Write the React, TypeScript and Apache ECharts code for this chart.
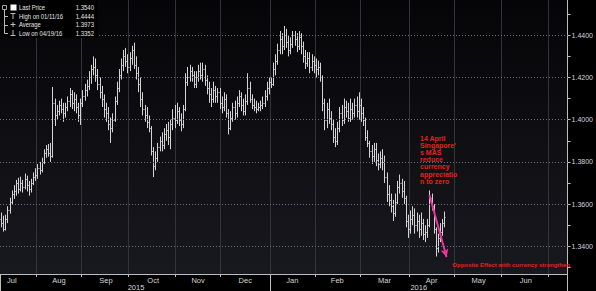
import React, { useEffect, useRef } from 'react';
import * as echarts from 'echarts';

const FONT = "'Liberation Sans Narrow', 'Liberation Sans', Arial, sans-serif";
const BOLD_FONT = "'Liberation Sans', Arial, sans-serif";

// ---- axis categories: trading days shown on the axis ----
const AXIS_START = '2015-07-09';
const AXIS_END = '2016-07-13';
function weekdays(start: string, end: string): string[] {
  const out: string[] = [];
  const d = new Date(start + 'T00:00:00Z');
  const e = new Date(end + 'T00:00:00Z');
  while (d <= e) {
    const wd = d.getUTCDay();
    if (wd !== 0 && wd !== 6) out.push(d.toISOString().slice(0, 10));
    d.setUTCDate(d.getUTCDate() + 1);
  }
  return out;
}
const categories = weekdays(AXIS_START, AXIS_END);

// ---- tick labels ----
const monthLabels = ['Jul', 'Aug', 'Sep', 'Oct', 'Nov', 'Dec', 'Jan', 'Feb', 'Mar', 'Apr', 'May', 'Jun'];
const monthLabelDates = ['2015-07-16', '2015-08-17', '2015-09-16', '2015-10-16', '2015-11-16', '2015-12-16',
  '2016-01-15', '2016-02-15', '2016-03-16', '2016-04-15', '2016-05-17', '2016-06-16'];
const yearLabels = ['2015', '2016'];
const yearLabelDates = ['2015-10-06', '2016-04-07'];
const yearSeparatorDate = '2016-01-01';
const yLabelValues = [1.34, 1.36, 1.38, 1.40, 1.42, 1.44];
const yTickValues = [1.33, 1.34, 1.35, 1.36, 1.37, 1.38, 1.39, 1.40, 1.41, 1.42, 1.43, 1.44, 1.45];

// ---- daily bars [open, close, low, high] ----
const jul2015 = [
  [1.3530, 1.3510, 1.3490, 1.3560], [1.3510, 1.3480, 1.3470, 1.3545], [1.3480, 1.3530, 1.3475, 1.3550],
  [1.3530, 1.3570, 1.3510, 1.3590], [1.3570, 1.3610, 1.3555, 1.3630], [1.3610, 1.3650, 1.3600, 1.3665],
  [1.3650, 1.3660, 1.3625, 1.3690], [1.3660, 1.3700, 1.3640, 1.3715], [1.3700, 1.3670, 1.3650, 1.3725],
  [1.3670, 1.3700, 1.3660, 1.3730], [1.3700, 1.3680, 1.3655, 1.3715], [1.3680, 1.3720, 1.3670, 1.3745],
  [1.3720, 1.3690, 1.3660, 1.3735], [1.3690, 1.3670, 1.3640, 1.3710], [1.3670, 1.3700, 1.3655, 1.3720],
  [1.3700, 1.3730, 1.3690, 1.3750], [1.3730, 1.3740, 1.3710, 1.3770],
];
const aug2015 = [
  [1.3740, 1.3770, 1.3720, 1.3790], [1.3770, 1.3760, 1.3740, 1.3800], [1.3760, 1.3800, 1.3750, 1.3820],
  [1.3800, 1.3840, 1.3790, 1.3860], [1.3840, 1.3860, 1.3820, 1.3880], [1.3860, 1.3840, 1.3825, 1.3885],
  [1.3840, 1.3830, 1.3800, 1.3890], [1.3830, 1.4080, 1.3820, 1.4155], [1.4080, 1.4020, 1.3970, 1.4100],
  [1.4020, 1.4040, 1.4000, 1.4070], [1.4040, 1.4070, 1.4020, 1.4090], [1.4070, 1.4050, 1.4030, 1.4100],
  [1.4050, 1.4030, 1.3990, 1.4080], [1.4030, 1.4060, 1.4010, 1.4080], [1.4060, 1.4090, 1.4040, 1.4110],
  [1.4090, 1.4120, 1.4060, 1.4150], [1.4120, 1.4080, 1.4050, 1.4140], [1.4080, 1.4100, 1.4040, 1.4130],
  [1.4100, 1.4060, 1.4030, 1.4120], [1.4060, 1.4020, 1.3990, 1.4080], [1.4020, 1.4080, 1.3975, 1.4100],
];
const sep2015 = [
  [1.4080, 1.4110, 1.4060, 1.4140], [1.4110, 1.4140, 1.4090, 1.4170], [1.4140, 1.4160, 1.4110, 1.4190],
  [1.4160, 1.4200, 1.4140, 1.4230], [1.4200, 1.4240, 1.4170, 1.4260], [1.4240, 1.4250, 1.4210, 1.4300],
  [1.4250, 1.4210, 1.4180, 1.4290], [1.4210, 1.4170, 1.4140, 1.4240], [1.4170, 1.4130, 1.4100, 1.4200],
  [1.4130, 1.4100, 1.4060, 1.4160], [1.4100, 1.4050, 1.4010, 1.4120], [1.4050, 1.4030, 1.3990, 1.4080],
  [1.4030, 1.3980, 1.3950, 1.4060], [1.3980, 1.3960, 1.3890, 1.4010], [1.3960, 1.4000, 1.3940, 1.4030],
  [1.4000, 1.4090, 1.3990, 1.4110], [1.4090, 1.4150, 1.4070, 1.4180], [1.4150, 1.4210, 1.4130, 1.4240],
  [1.4210, 1.4260, 1.4190, 1.4290], [1.4260, 1.4300, 1.4230, 1.4330], [1.4300, 1.4280, 1.4250, 1.4340],
  [1.4280, 1.4250, 1.4220, 1.4310],
];
const oct2015 = [
  [1.4250, 1.4290, 1.4230, 1.4320], [1.4290, 1.4330, 1.4260, 1.4350], [1.4330, 1.4260, 1.4240, 1.4365],
  [1.4260, 1.4220, 1.4190, 1.4300], [1.4220, 1.4170, 1.4130, 1.4250], [1.4170, 1.4100, 1.4060, 1.4200],
  [1.4100, 1.4050, 1.4020, 1.4130], [1.4050, 1.4020, 1.3990, 1.4070], [1.4020, 1.3990, 1.3960, 1.4060],
  [1.3990, 1.3960, 1.3940, 1.4020], [1.3960, 1.3850, 1.3830, 1.3970], [1.3850, 1.3780, 1.3728, 1.3870],
  [1.3780, 1.3820, 1.3760, 1.3850], [1.3820, 1.3870, 1.3800, 1.3890], [1.3870, 1.3900, 1.3850, 1.3920],
  [1.3900, 1.3880, 1.3850, 1.3940], [1.3880, 1.3930, 1.3860, 1.3960], [1.3930, 1.3950, 1.3900, 1.3980],
  [1.3950, 1.3920, 1.3880, 1.3990], [1.3920, 1.3980, 1.3860, 1.4000], [1.3980, 1.4010, 1.3950, 1.4050],
  [1.4010, 1.4000, 1.3960, 1.4070],
];
const nov2015 = [
  [1.4000, 1.4040, 1.3980, 1.4080], [1.4040, 1.4000, 1.3970, 1.4060], [1.4000, 1.3980, 1.3945, 1.4030],
  [1.3980, 1.4050, 1.3960, 1.4070], [1.4050, 1.4180, 1.4040, 1.4220], [1.4180, 1.4200, 1.4160, 1.4250],
  [1.4200, 1.4230, 1.4180, 1.4260], [1.4230, 1.4210, 1.4180, 1.4250], [1.4210, 1.4170, 1.4150, 1.4230],
  [1.4170, 1.4200, 1.4150, 1.4230], [1.4200, 1.4230, 1.4180, 1.4260], [1.4230, 1.4210, 1.4190, 1.4270],
  [1.4210, 1.4240, 1.4180, 1.4270], [1.4240, 1.4190, 1.4160, 1.4260], [1.4190, 1.4150, 1.4120, 1.4210],
  [1.4150, 1.4120, 1.4080, 1.4180], [1.4120, 1.4100, 1.4060, 1.4150], [1.4100, 1.4140, 1.4080, 1.4180],
  [1.4140, 1.4110, 1.4080, 1.4160], [1.4110, 1.4130, 1.4080, 1.4150], [1.4130, 1.4080, 1.4050, 1.4150],
];
const dec2015 = [
  [1.4080, 1.4060, 1.4030, 1.4110], [1.4060, 1.4100, 1.4040, 1.4130], [1.4100, 1.4030, 1.4010, 1.4120],
  [1.4030, 1.3960, 1.3930, 1.4050], [1.3960, 1.4010, 1.3950, 1.4040], [1.4010, 1.4060, 1.3990, 1.4080],
  [1.4060, 1.4030, 1.4000, 1.4090], [1.4030, 1.4080, 1.4010, 1.4110], [1.4080, 1.4110, 1.4060, 1.4140],
  [1.4110, 1.4070, 1.4040, 1.4130], [1.4070, 1.4040, 1.4020, 1.4100], [1.4040, 1.4090, 1.4020, 1.4120],
  [1.4090, 1.4150, 1.4070, 1.4220], [1.4150, 1.4100, 1.4080, 1.4180], [1.4100, 1.4070, 1.4050, 1.4120],
  [1.4070, 1.4060, 1.4040, 1.4100], [1.4060, 1.4050, 1.4030, 1.4090], [1.4050, 1.4060, 1.4040, 1.4080],
  [1.4060, 1.4070, 1.4040, 1.4090], [1.4070, 1.4080, 1.4050, 1.4110], [1.4080, 1.4110, 1.4060, 1.4140],
  [1.4110, 1.4150, 1.4090, 1.4180], [1.4150, 1.4180, 1.4120, 1.4200],
];
const jan2016 = [
  [1.4180, 1.4170, 1.4150, 1.4200], [1.4170, 1.4240, 1.4160, 1.4270], [1.4240, 1.4280, 1.4210, 1.4310],
  [1.4280, 1.4330, 1.4260, 1.4360], [1.4330, 1.4380, 1.4310, 1.4420], [1.4380, 1.4350, 1.4310, 1.4410],
  [1.4350, 1.4400, 1.4330, 1.4444], [1.4400, 1.4370, 1.4340, 1.4430], [1.4370, 1.4330, 1.4300, 1.4400],
  [1.4330, 1.4360, 1.4310, 1.4390], [1.4360, 1.4400, 1.4340, 1.4420], [1.4400, 1.4380, 1.4350, 1.4420],
  [1.4380, 1.4350, 1.4320, 1.4410], [1.4350, 1.4390, 1.4330, 1.4420], [1.4390, 1.4350, 1.4310, 1.4410],
  [1.4350, 1.4300, 1.4270, 1.4370], [1.4300, 1.4270, 1.4240, 1.4330], [1.4270, 1.4290, 1.4250, 1.4320],
  [1.4290, 1.4250, 1.4220, 1.4320], [1.4250, 1.4280, 1.4230, 1.4310], [1.4280, 1.4260, 1.4220, 1.4300],
];
const feb2016 = [
  [1.4260, 1.4240, 1.4200, 1.4290], [1.4240, 1.4250, 1.4210, 1.4280], [1.4250, 1.4200, 1.4180, 1.4270],
  [1.4200, 1.4080, 1.4040, 1.4210], [1.4080, 1.4000, 1.3950, 1.4100], [1.4000, 1.4050, 1.3960, 1.4080],
  [1.4050, 1.4010, 1.3980, 1.4100], [1.4010, 1.3980, 1.3950, 1.4040], [1.3980, 1.3920, 1.3890, 1.4000],
  [1.3920, 1.3900, 1.3870, 1.3960], [1.3900, 1.3960, 1.3880, 1.3990], [1.3960, 1.4030, 1.3940, 1.4060],
  [1.4030, 1.4000, 1.3970, 1.4070], [1.4000, 1.4060, 1.3980, 1.4100], [1.4060, 1.4040, 1.4010, 1.4090],
  [1.4040, 1.4010, 1.3990, 1.4080], [1.4010, 1.4050, 1.3990, 1.4100], [1.4050, 1.4030, 1.4000, 1.4080],
  [1.4030, 1.4070, 1.4010, 1.4100], [1.4070, 1.4040, 1.4010, 1.4110], [1.4040, 1.4070, 1.4000, 1.4130],
];
const mar2016 = [
  [1.4070, 1.4030, 1.3990, 1.4100], [1.4030, 1.4000, 1.3970, 1.4060], [1.4000, 1.3920, 1.3900, 1.4010],
  [1.3920, 1.3890, 1.3870, 1.3950], [1.3890, 1.3850, 1.3820, 1.3900], [1.3850, 1.3830, 1.3790, 1.3880],
  [1.3830, 1.3860, 1.3800, 1.3890], [1.3860, 1.3810, 1.3780, 1.3890], [1.3810, 1.3790, 1.3760, 1.3840],
  [1.3790, 1.3820, 1.3770, 1.3850], [1.3820, 1.3800, 1.3760, 1.3860], [1.3800, 1.3730, 1.3700, 1.3830],
  [1.3730, 1.3650, 1.3610, 1.3750], [1.3650, 1.3620, 1.3590, 1.3690], [1.3620, 1.3590, 1.3560, 1.3650],
  [1.3590, 1.3560, 1.3520, 1.3620], [1.3560, 1.3610, 1.3540, 1.3650], [1.3610, 1.3680, 1.3600, 1.3710],
  [1.3680, 1.3700, 1.3650, 1.3740], [1.3700, 1.3660, 1.3630, 1.3720], [1.3660, 1.3630, 1.3600, 1.3710],
  [1.3630, 1.3520, 1.3490, 1.3640], [1.3520, 1.3480, 1.3440, 1.3550],
];
const apr2016 = [
  [1.3480, 1.3530, 1.3460, 1.3570], [1.3530, 1.3550, 1.3500, 1.3590], [1.3550, 1.3500, 1.3460, 1.3580],
  [1.3500, 1.3520, 1.3470, 1.3560], [1.3520, 1.3480, 1.3440, 1.3550], [1.3480, 1.3510, 1.3450, 1.3560],
  [1.3510, 1.3460, 1.3430, 1.3530], [1.3460, 1.3470, 1.3420, 1.3500], [1.3470, 1.3500, 1.3440, 1.3530],
  [1.3500, 1.3630, 1.3490, 1.3665], [1.3630, 1.3590, 1.3570, 1.3650], [1.3590, 1.3480, 1.3460, 1.3600],
  [1.3480, 1.3390, 1.3352, 1.3490], [1.3390, 1.3440, 1.3370, 1.3460], [1.3440, 1.3470, 1.3420, 1.3510],
  [1.3470, 1.3510, 1.3450, 1.3530], [1.3510, 1.3540, 1.3490, 1.3565],
];

// ---- legend / annotation values ----
const lastPrice = 1.3540;
const highLabel = 'High on 01/11/16';
const highValue = 1.4444;
const averageValue = 1.3973;
const lowLabel = 'Low on 04/19/16';
const lowValue = 1.3352;
const arrowFrom = { date: '2016-04-14', value: 1.3643 };
const arrowTo = { date: '2016-04-26', value: 1.3349 };
const annotationLines = ['14 April', "Singapore'", 's MAS', 'reduce', 'currency', 'appreciatio', 'n to zero'];
const bottomNote = 'Opposite Effect with currency strengthen';

const Y_MIN = 1.3269;
const Y_MAX = 1.4567;

export default function App() {
  const ref = useRef<HTMLDivElement>(null);
  useEffect(() => {
    if (!ref.current) return;
    const chart = echarts.init(ref.current, undefined, { renderer: 'svg' });
    const bars = [...jul2015, ...aug2015, ...sep2015, ...oct2015, ...nov2015, ...dec2015,
      ...jan2016, ...feb2016, ...mar2016, ...apr2016];
    const data = bars.map((b, i) => [i, b[0], b[1], b[2], b[3]]);

    const isMonthStart = (idx: number) =>
      idx > 0 && categories[idx].slice(5, 7) !== categories[idx - 1].slice(5, 7);
    const sepIdx = categories.indexOf(yearSeparatorDate);
    const txt = '#d6d6d6';
    const axisCol = '#bdbdbd';

    const legendRows = [
      { label: 'Last Price', value: lastPrice },
      { label: highLabel, value: highValue },
      { label: 'Average', value: averageValue },
      { label: lowLabel, value: lowValue },
    ];
    const rowY = [7.5, 16, 24.5, 33];
    const lineStyle = { stroke: '#bbb', lineWidth: 1 };
    const legendGraphic: any[] = [
      { type: 'rect', shape: { x: 0, y: 0, width: 98, height: 38 }, style: { fill: '#000' }, z: 50 },
      { type: 'rect', shape: { x: 2.5, y: 5.5, width: 4, height: 4 }, style: { fill: 'none', stroke: '#aaa', lineWidth: 1 }, z: 51 },
      { type: 'rect', shape: { x: 10.5, y: 4.5, width: 6, height: 6 }, style: { fill: '#fff' }, z: 51 },
      { type: 'line', shape: { x1: 4.5, y1: 9.5, x2: 4.5, y2: 33.5 }, style: lineStyle, z: 51 },
      ...[16, 24.5, 33].map((y) => ({ type: 'line', shape: { x1: 4.5, y1: Math.round(y) + 0.5, x2: 8, y2: Math.round(y) + 0.5 }, style: lineStyle, z: 51 })),
      { type: 'line', shape: { x1: 10.5, y1: 13.5, x2: 15.5, y2: 13.5 }, style: lineStyle, z: 51 },
      { type: 'line', shape: { x1: 13, y1: 13.5, x2: 13, y2: 19 }, style: lineStyle, z: 51 },
      { type: 'line', shape: { x1: 10.5, y1: 24.5, x2: 15.5, y2: 24.5 }, style: lineStyle, z: 51 },
      { type: 'line', shape: { x1: 13, y1: 22, x2: 13, y2: 27 }, style: lineStyle, z: 51 },
      { type: 'line', shape: { x1: 10.5, y1: 35.5, x2: 15.5, y2: 35.5 }, style: lineStyle, z: 51 },
      { type: 'line', shape: { x1: 13, y1: 30, x2: 13, y2: 35.5 }, style: lineStyle, z: 51 },
      ...legendRows.flatMap((r, i) => [
        { type: 'text', x: 19, y: rowY[i], scaleX: 0.78, style: { text: r.label, fill: '#e6e6e6', font: `7.5px ${FONT}`, verticalAlign: 'middle' }, z: 52 },
        { type: 'text', x: 94, y: rowY[i], scaleX: 0.8, style: { text: r.value.toFixed(4), fill: '#e6e6e6', font: `7.5px ${FONT}`, align: 'right', verticalAlign: 'middle' }, z: 52 },
      ]),
    ];

    const annotationGraphic: any[] = [
      { type: 'text', x: 420, y: 134.5, style: { text: annotationLines.join('\n'), fill: '#e3231c', font: `bold 7px ${BOLD_FONT}`, lineHeight: 7.2, align: 'left', verticalAlign: 'top' }, z: 40 },
      { type: 'text', x: 570, y: 264.5, style: { text: bottomNote, fill: '#e3231c', font: `bold 6px ${BOLD_FONT}`, align: 'right', verticalAlign: 'middle' }, z: 40 },
    ];

    chart.setOption({
      animation: false,
      backgroundColor: '#000',
      grid: {
        left: 0, right: 25, top: 0, bottom: 17, show: true, borderWidth: 0,
        backgroundColor: {
          type: 'linear', x: 0, y: 0, x2: 0, y2: 1,
          colorStops: [{ offset: 0, color: '#050507' }, { offset: 1, color: '#18181f' }],
        },
      },
      xAxis: [
        {
          type: 'category', data: categories, boundaryGap: true, position: 'bottom',
          axisLine: { show: true, lineStyle: { color: axisCol, width: 1 } },
          axisTick: { show: true, interval: (i: number) => isMonthStart(i), length: 3, lineStyle: { color: axisCol } },
          axisLabel: {
            show: true, interval: (i: number, v: string) => monthLabelDates.includes(v),
            formatter: (v: string) => monthLabels[monthLabelDates.indexOf(v)] || '',
            color: txt, fontSize: 7.5, fontFamily: FONT, margin: 2,
          },
          splitLine: { show: true, interval: (i: number) => isMonthStart(i), lineStyle: { color: '#33333b', width: 1 } },
        },
        {
          type: 'category', data: categories, boundaryGap: true, position: 'bottom',
          axisLine: { show: false },
          axisTick: { show: true, interval: (i: number) => i === 0 || i === sepIdx, length: 17, lineStyle: { color: axisCol } },
          axisLabel: {
            show: true, interval: (i: number, v: string) => yearLabelDates.includes(v),
            formatter: (v: string) => yearLabels[yearLabelDates.indexOf(v)] || '',
            color: txt, fontSize: 7.5, fontFamily: FONT, margin: 9,
          },
          splitLine: { show: false },
        },
      ],
      yAxis: {
        type: 'value', position: 'right', min: Y_MIN, max: Y_MAX, scale: true,
        axisLine: { show: true, lineStyle: { color: axisCol, width: 1 } },
        axisTick: { show: true, customValues: yTickValues, length: 3, lineStyle: { color: axisCol } },
        axisLabel: {
          show: true, customValues: yLabelValues, formatter: (v: number) => v.toFixed(4),
          color: txt, fontSize: 7, fontFamily: FONT, margin: 4,
        },
        splitLine: { show: false },
      },
      series: [
        {
          type: 'line', data: [], z: 1, silent: true,
          markLine: {
            silent: true, symbol: 'none', animation: false,
            label: { show: false },
            lineStyle: { color: '#6e6e74', type: [1, 2], width: 1 },
            data: yLabelValues.map((v) => ({ yAxis: v })),
          },
        },
        {
          type: 'custom', xAxisIndex: 0, z: 3, silent: true,
          encode: { x: 0, y: [1, 2, 3, 4] },
          data,
          renderItem: (params: any, api: any) => {
            const i = api.value(0);
            const o = api.coord([i, api.value(1)]);
            const c = api.coord([i, api.value(2)]);
            const l = api.coord([i, api.value(3)]);
            const h = api.coord([i, api.value(4)]);
            const x = Math.round(h[0]) + 0.5;
            const style = { stroke: '#d4d4d4', lineWidth: 1 };
            return {
              type: 'group',
              children: [
                { type: 'line', shape: { x1: x, y1: h[1], x2: x, y2: l[1] }, style },
                { type: 'line', shape: { x1: x - 1, y1: Math.round(o[1]) + 0.5, x2: x, y2: Math.round(o[1]) + 0.5 }, style },
                { type: 'line', shape: { x1: x, y1: Math.round(c[1]) + 0.5, x2: x + 1, y2: Math.round(c[1]) + 0.5 }, style },
              ],
            };
          },
        },
        {
          type: 'line', data: [], z: 5, silent: true,
          markLine: {
            silent: true, animation: false,
            data: [
              [
                { coord: [arrowFrom.date, arrowFrom.value], symbol: 'none' },
                { coord: [arrowTo.date, arrowTo.value], symbol: 'arrow', symbolSize: [6, 8] },
              ],
              {
                yAxis: lastPrice, symbol: 'none',
                lineStyle: { opacity: 0 },
                label: {
                  show: true, position: 'end', distance: 3, formatter: lastPrice.toFixed(4),
                  color: '#000', backgroundColor: '#f2f2f2', borderRadius: 2, padding: [1, 2, 1, 2],
                  fontSize: 7, fontFamily: FONT,
                },
              },
            ],
            label: { show: false },
            lineStyle: { color: '#e8359c', width: 2, type: 'solid' },
          },
        },
      ],
      graphic: [...legendGraphic, ...annotationGraphic],
    });
    return () => chart.dispose();
  }, []);
  return <div ref={ref} style={{ position: 'fixed', left: 0, top: 0, width: 596, height: 291 }} />;
}
